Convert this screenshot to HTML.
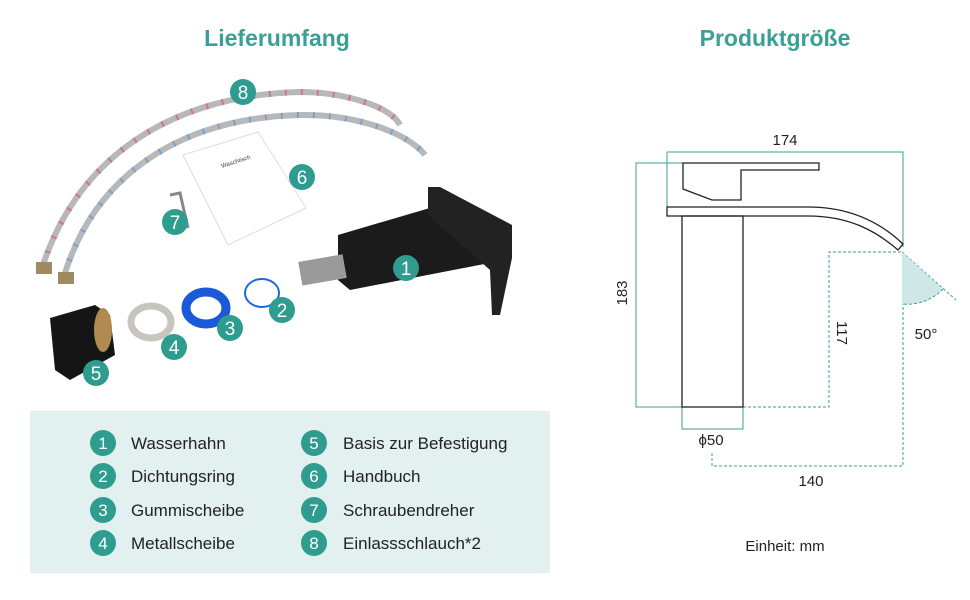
<!DOCTYPE html>
<html><head><meta charset="utf-8"><style>
html,body{margin:0;padding:0;background:#fff;}
svg{display:block;font-family:"Liberation Sans",sans-serif;}
</style></head><body>
<svg width="970" height="600" viewBox="0 0 970 600" xmlns="http://www.w3.org/2000/svg">
<defs>
<g id="b"><circle r="13" fill="#2e9c8f"/></g>
</defs>
<text x="277" y="46" text-anchor="middle" font-size="23" font-weight="bold" fill="#3a9f96">Lieferumfang</text>
<text x="775" y="46" text-anchor="middle" font-size="23" font-weight="bold" fill="#3a9f96">Produktgröße</text>

<!-- hoses -->
<path d="M42,268 C80,150 180,95 300,92 C340,92 390,105 400,125" fill="none" stroke="#b8b8b8" stroke-width="6"/>
<path d="M42,268 C80,150 180,95 300,92 C340,92 390,105 400,125" fill="none" stroke="#d46060" stroke-width="6" stroke-dasharray="2 14" opacity=".7"/>
<path d="M64,276 C95,175 180,118 300,115 C360,114 410,135 425,155" fill="none" stroke="#b8b8b8" stroke-width="6"/>
<path d="M64,276 C95,175 180,118 300,115 C360,114 410,135 425,155" fill="none" stroke="#5a9ad4" stroke-width="6" stroke-dasharray="2 14" opacity=".7"/>
<rect x="36" y="262" width="16" height="12" fill="#a08a60"/>
<rect x="58" y="272" width="16" height="12" fill="#a08a60"/>
<!-- manual -->
<polygon points="183,155 258,132 306,208 228,245" fill="#fff" stroke="#ddd"/>
<text x="222" y="168" font-size="6" fill="#444" transform="rotate(-18 222 168)">Waschtisch</text>
<!-- allen key -->
<path d="M170,195 L180,193 L188,228" fill="none" stroke="#888" stroke-width="3"/>
<!-- faucet -->
<polygon points="338,235 440,205 505,230 505,260 350,290 338,280" fill="#1b1b1b"/>
<polygon points="428,187 440,187 512,225 512,258 500,315 492,315 490,270 428,215" fill="#222"/>
<rect x="300" y="258" width="45" height="24" fill="#9a9a9a" transform="rotate(-10 322 270)"/>
<!-- rings -->
<ellipse cx="262" cy="293" rx="17" ry="14" fill="none" stroke="#1a6be0" stroke-width="2"/>
<ellipse cx="206" cy="308" rx="20" ry="16" fill="none" stroke="#1a5ad8" stroke-width="9"/>
<ellipse cx="151" cy="322" rx="20" ry="16" fill="none" stroke="#c8c4be" stroke-width="7"/>
<polygon points="50,318 95,305 110,315 115,355 70,380 55,370" fill="#151515"/>
<ellipse cx="103" cy="330" rx="9" ry="22" fill="#b08a50"/>
<!-- badges -->
<g fill="#fff" font-size="19" text-anchor="middle">
<circle cx="243" cy="92" r="13" fill="#2e9c8f"/><text x="243" y="99">8</text>
<circle cx="302" cy="177" r="13" fill="#2e9c8f"/><text x="302" y="184">6</text>
<circle cx="175" cy="222" r="13" fill="#2e9c8f"/><text x="175" y="229">7</text>
<circle cx="406" cy="268" r="13" fill="#2e9c8f"/><text x="406" y="275">1</text>
<circle cx="282" cy="310" r="13" fill="#2e9c8f"/><text x="282" y="317">2</text>
<circle cx="230" cy="328" r="13" fill="#2e9c8f"/><text x="230" y="335">3</text>
<circle cx="174" cy="347" r="13" fill="#2e9c8f"/><text x="174" y="354">4</text>
<circle cx="96" cy="373" r="13" fill="#2e9c8f"/><text x="96" y="380">5</text>
</g>

<!-- legend -->
<rect x="30" y="411" width="520" height="162" fill="#e2f0f0"/>
<g font-size="17" fill="#222">
<g fill="#2e9c8f"><circle cx="103" cy="443" r="13"/><circle cx="103" cy="476" r="13"/><circle cx="103" cy="510" r="13"/><circle cx="103" cy="543" r="13"/><circle cx="314" cy="443" r="13"/><circle cx="314" cy="476" r="13"/><circle cx="314" cy="510" r="13"/><circle cx="314" cy="543" r="13"/></g>
<g fill="#fff" text-anchor="middle" font-size="17"><text x="103" y="449">1</text><text x="103" y="482">2</text><text x="103" y="516">3</text><text x="103" y="549">4</text><text x="314" y="449">5</text><text x="314" y="482">6</text><text x="314" y="516">7</text><text x="314" y="549">8</text></g>
<text x="131" y="449">Wasserhahn</text><text x="131" y="482">Dichtungsring</text><text x="131" y="516">Gummischeibe</text><text x="131" y="549">Metallscheibe</text>
<text x="343" y="449">Basis zur Befestigung</text><text x="343" y="482">Handbuch</text><text x="343" y="516">Schraubendreher</text><text x="343" y="549">Einlassschlauch*2</text>
</g>

<!-- dimension drawing -->
<g fill="none" stroke="#3a9f96" stroke-width="1">
<polyline points="667,208 667,152 903,152 903,247"/>
<polyline points="683,163 636,163 636,407 683,407"/>
<polyline points="682,407 682,429 743,429 743,407"/>
</g>
<g fill="none" stroke="#3a9f96" stroke-width="1" stroke-dasharray="3 2">
<polyline points="743,407 829,407 829,252 901,252"/>
<polyline points="903,252 903,466 712,466 712,453"/>
<line x1="902" y1="252" x2="956" y2="300"/>
</g>
<path d="M902,252 L943,289 A50,50 0 0 1 902,304 Z" fill="#cfe8e6"/>
<path d="M943,289 A50,50 0 0 1 902,304" fill="none" stroke="#3a9f96" stroke-dasharray="3 2"/>
<g fill="none" stroke="#222" stroke-width="1.3">
<polygon points="683,163 819,163 819,170 741,170 741,200 712,200 683,189"/>
<path d="M667,207 L808,207 C850,207 880,222 903,244 L898,250 C875,230 848,216 808,216 L667,216 Z"/>
<rect x="682" y="216" width="61" height="191"/>
</g>
<g font-size="15" fill="#222" text-anchor="middle">
<text x="785" y="145">174</text>
<text x="0" y="0" transform="translate(627,293) rotate(-90)">183</text>
<text x="0" y="0" transform="translate(837,333) rotate(90)">117</text>
<text x="926" y="339">50°</text>
<text x="711" y="445">ϕ50</text>
<text x="811" y="486">140</text>
<text x="785" y="551">Einheit: mm</text>
</g>
</svg>
</body></html>
